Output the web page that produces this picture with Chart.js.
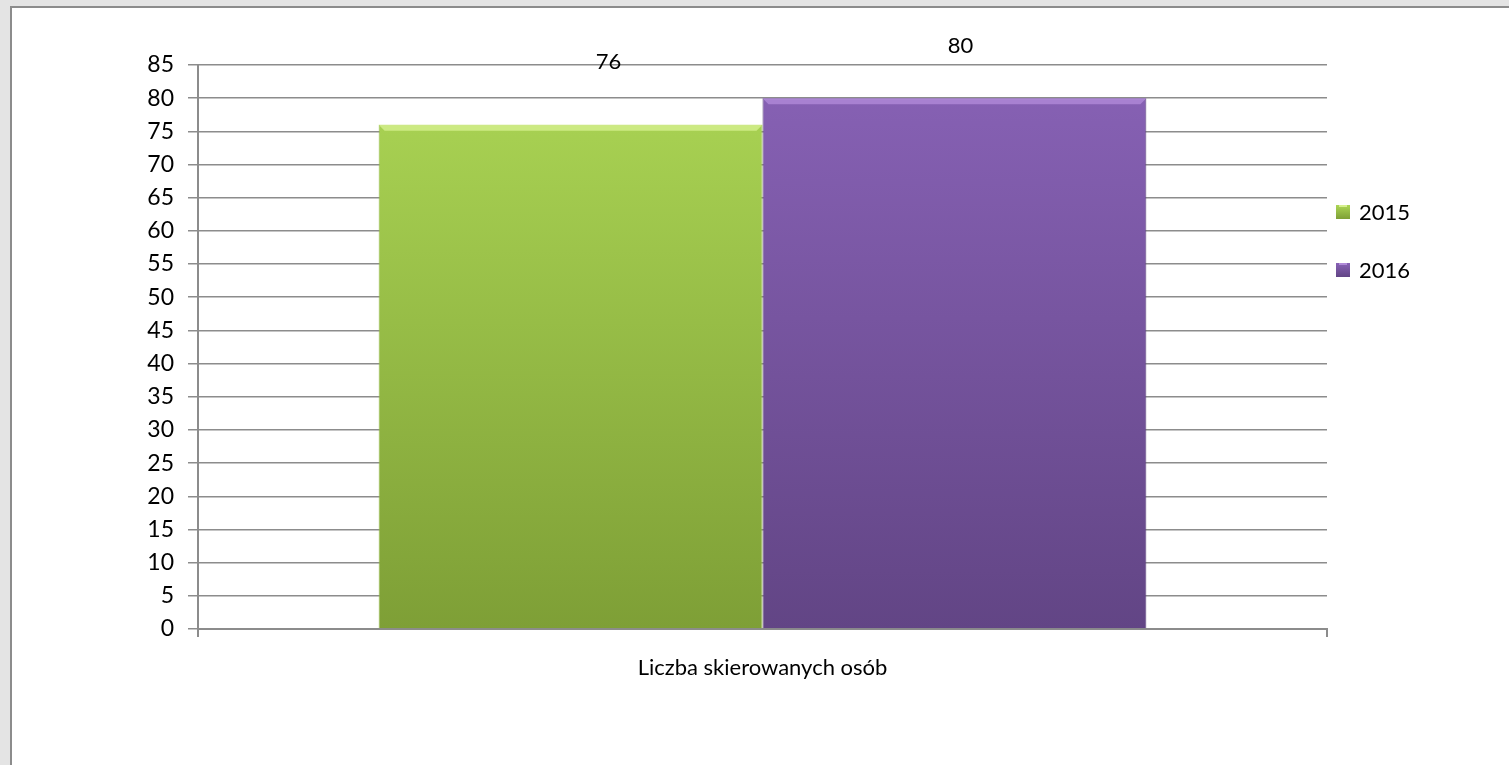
<!DOCTYPE html>
<html>
<head>
<meta charset="utf-8">
<script src="https://cdn.jsdelivr.net/npm/chart.js@4"></script>
<style>
  html, body { margin: 0; padding: 0; background: #e4e4e4; overflow: hidden; }
  #frame {
    position: absolute; left: 10px; top: 6px; width: 1510px; height: 770px;
    background: #fff; border-left: 2px solid #8c8c8c; border-top: 2px solid #8c8c8c;
  }
  #wrap { position: absolute; left: 0; top: 0; width: 1497px; height: 757px; }
</style>
</head>
<body>
<div id="frame"><div id="wrap"><canvas id="chart"></canvas></div></div>
<script>
const categories = ["Liczba skierowanych osób"];
const seriesNames = ["2015", "2016"];
const values2015 = [76];
const values2016 = [80];
const yTicks = [0, 5, 10, 15, 20, 25, 30, 35, 40, 45, 50, 55, 60, 65, 70, 75, 80, 85];

const FONT = "Lato, 'Open Sans', sans-serif";
const palette = [
  { top: "#acd655", bottom: "#7e9f36", edge: "#d6f08e" },
  { top: "#8862b6", bottom: "#624585", edge: "#b08ad8" }
];

function barGradient(ctx, i) {
  const area = ctx.chart.chartArea;
  if (!area) return palette[i].bottom;
  const g = ctx.chart.ctx.createLinearGradient(0, area.top, 0, area.bottom);
  g.addColorStop(0, palette[i].top);
  g.addColorStop(1, palette[i].bottom);
  return g;
}

// light bevel along the top of each bar, then the value labels
const labelPlugin = {
  id: "valueLabels",
  afterDatasetsDraw(chart) {
    const c = chart.ctx;
    c.save();
    chart.data.datasets.forEach((ds, i) => {
      chart.getDatasetMeta(i).data.forEach(bar => {
        const half = bar.width / 2;
        c.fillStyle = palette[i].edge;
        c.globalAlpha = 0.8;
        c.beginPath();
        c.moveTo(bar.x - half, bar.y);
        c.lineTo(bar.x + half, bar.y);
        c.lineTo(bar.x + half - 6, bar.y + 6);
        c.lineTo(bar.x - half + 6, bar.y + 6);
        c.closePath();
        c.fill();
        c.globalAlpha = 1;
      });
    });
    c.font = "22px " + FONT;
    c.fillStyle = "#000";
    c.textAlign = "center";
    c.textBaseline = "middle";
    chart.data.datasets.forEach((ds, i) => {
      chart.getDatasetMeta(i).data.forEach((bar, j) => {
        c.fillText(ds.data[j], bar.x + ds.labelDx, bar.y - ds.labelDy);
      });
    });
    c.restore();
  }
};

const legendPlugin = {
  id: "sideLegend",
  afterDraw(chart) {
    const c = chart.ctx;
    const x = chart.chartArea.right + 9;
    c.save();
    c.font = "22px " + FONT;
    c.textBaseline = "middle";
    chart.data.datasets.forEach((ds, i) => {
      const y = 204 + i * 58;
      const g = c.createLinearGradient(0, y - 7, 0, y + 7);
      g.addColorStop(0, palette[i].top);
      g.addColorStop(1, palette[i].bottom);
      c.fillStyle = g;
      c.fillRect(x, y - 7, 14, 14);
      c.fillStyle = palette[i].edge;
      c.fillRect(x + 3, y - 7, 8, 2);
      c.fillStyle = "#000";
      c.fillText(ds.label, x + 23, y + 1);
    });
    c.restore();
  }
};

new Chart(document.getElementById("chart"), {
  type: "bar",
  data: {
    labels: categories,
    datasets: [
      { label: seriesNames[0], data: values2015, labelDx: 38, labelDy: 63,
        backgroundColor: ctx => barGradient(ctx, 0), borderColor: "#93b844", borderWidth: 1 },
      { label: seriesNames[1], data: values2016, labelDx: 6, labelDy: 52,
        backgroundColor: ctx => barGradient(ctx, 1), borderColor: "#5a3f7c", borderWidth: 1 }
    ]
  },
  options: {
    responsive: true,
    maintainAspectRatio: false,
    animation: false,
    layout: { padding: { left: 126, right: 182, top: 57, bottom: 60 } },
    plugins: { legend: { display: false }, tooltip: { enabled: false } },
    datasets: { bar: { categoryPercentage: 0.68, barPercentage: 1.0 } },
    scales: {
      x: {
        offset: true,
        grid: { drawOnChartArea: false, drawTicks: true, tickLength: 8, color: "#8c8c8c", lineWidth: 2 },
        border: { color: "#8c8c8c", width: 2 },
        ticks: { color: "#000", font: { family: FONT, size: 22 }, padding: 18 },
        afterFit: s => { s.height = 76; }
      },
      y: {
        min: 0, max: 85,
        afterBuildTicks: s => { s.ticks = yTicks.map(v => ({ value: v })); },
        grid: { color: "#8c8c8c", lineWidth: 1.5, tickLength: 10 },
        border: { color: "#8c8c8c", width: 2 },
        ticks: { color: "#000", font: { family: FONT, size: 23 }, padding: 14 },
        afterFit: s => { s.width = 60; }
      }
    }
  },
  plugins: [labelPlugin, legendPlugin]
});
</script>
</body>
</html>
